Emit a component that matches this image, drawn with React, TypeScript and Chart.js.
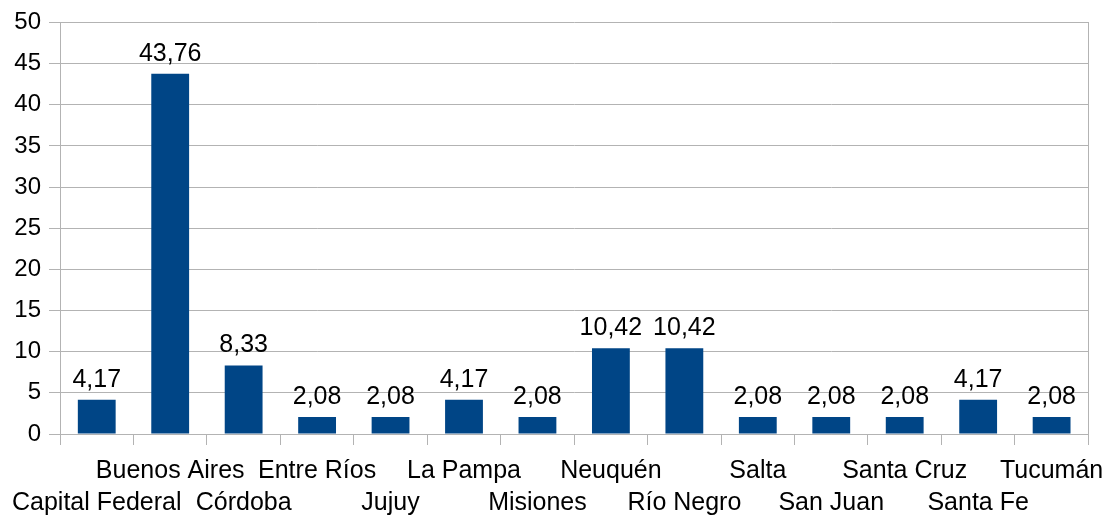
import React, { useEffect, useRef } from "react";
import { Chart, registerables } from "chart.js";

Chart.register(...registerables);

const categories = [
  "Capital Federal",
  "Buenos Aires",
  "Córdoba",
  "Entre Ríos",
  "Jujuy",
  "La Pampa",
  "Misiones",
  "Neuquén",
  "Río Negro",
  "Salta",
  "San Juan",
  "Santa Cruz",
  "Santa Fe",
  "Tucumán",
];
const values = [4.17, 43.76, 8.33, 2.08, 2.08, 4.17, 2.08, 10.42, 10.42, 2.08, 2.08, 2.08, 4.17, 2.08];
const yMin = 0;
const yMax = 50;
const yStep = 5;

const GRID = "#b3b3b3";
const BAR = "#004586";
const FONT = "'Liberation Sans', Arial, sans-serif";

const valueLabels = {
  id: "valueLabels",
  afterDatasetsDraw(chart: any) {
    const ctx = chart.ctx;
    const meta = chart.getDatasetMeta(0);
    ctx.save();
    ctx.font = `25px ${FONT}`;
    ctx.fillStyle = "#000";
    ctx.textAlign = "center";
    ctx.textBaseline = "alphabetic";
    meta.data.forEach((bar: any, i: number) => {
      const txt = values[i].toFixed(2).replace(".", ",");
      ctx.fillText(txt, bar.x, bar.y - 13);
    });
    ctx.restore();
  },
};

export default function App() {
  const ref = useRef<HTMLCanvasElement | null>(null);
  useEffect(() => {
    if (!ref.current) return;
    const chart = new Chart(ref.current, {
      type: "bar",
      data: {
        labels: categories,
        datasets: [
          {
            data: values,
            backgroundColor: BAR,
            borderWidth: 0,
            barPercentage: 0.515,
            categoryPercentage: 1,
          },
        ],
      },
      options: {
        animation: false,
        responsive: true,
        maintainAspectRatio: false,
        layout: { padding: { top: 22, left: 0, right: 0, bottom: 0 } },
        plugins: {
          legend: { display: false },
          tooltip: { enabled: false },
        },
        scales: {
          x: {
            offset: true,
            grid: {
              offset: true,
              drawOnChartArea: false,
              drawTicks: true,
              tickLength: 11,
              color: GRID,
            },
            border: { color: GRID },
            ticks: {
              autoSkip: false,
              maxRotation: 0,
              minRotation: 0,
              color: "#000",
              padding: 10,
              font: { family: FONT, size: 25, lineHeight: "32px" },
              callback: (_v: any, i: number) =>
                i % 2 === 0 ? ["", categories[i]] : [categories[i]],
            },
            afterFit: (scale: any) => {
              scale.height = 83;
            },
          },
          y: {
            min: yMin,
            max: yMax,
            grid: { color: GRID, tickLength: 11 },
            border: { color: GRID },
            ticks: {
              stepSize: yStep,
              color: "#000",
              padding: 8,
              font: { family: FONT, size: 24 },
            },
            afterFit: (scale: any) => {
              scale.width = 59;
            },
          },
          y2: {
            position: "right",
            display: true,
            grid: { drawOnChartArea: false, drawTicks: false },
            border: { color: GRID },
            ticks: { display: false },
            afterFit: (scale: any) => {
              scale.width = 22;
            },
          },
        },
      },
      plugins: [valueLabels],
    });
    return () => chart.destroy();
  }, []);
  return (
    <div style={{ position: "fixed", left: 0, top: 0, width: 1114, height: 517, background: "#fff" }}>
      <canvas ref={ref} />
    </div>
  );
}
